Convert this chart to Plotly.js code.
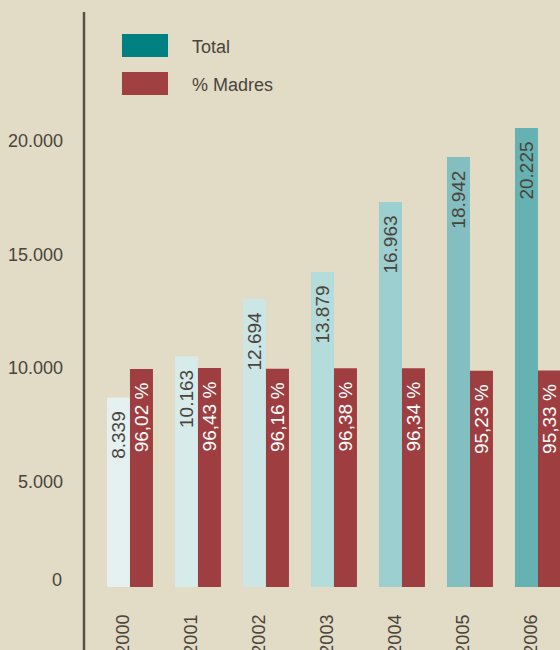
<!DOCTYPE html>
<html><head><meta charset="utf-8">
<script src="https://cdn.plot.ly/plotly-3.0.1.min.js"></script>
<style>html,body{margin:0;padding:0;background:#e2dbc5}#c{width:560px;height:650px}</style>
</head><body><div id="c"></div>
<script>
var years = ["2000","2001","2002","2003","2004","2005","2006"];
var totals = [8339, 10163, 12694, 13879, 16963, 18942, 20225];
var madresPct = [96.02, 96.43, 96.16, 96.38, 96.34, 95.23, 95.33];
var totalColors = ["#e5f1f0","#d6ebea","#cbe6e5","#b4dcdb","#9ccfcf","#83bfc0","#66b2b3"];
var yTicks = [5000, 10000, 15000, 20000];

var FONT = "'Liberation Sans','Arial',sans-serif";
var INK = "#4a443d";
var RED = "#9f3e40";
var pad = "\u00a0\u00a0";

var traceTotal = {
  type: "bar", x: years, y: totals, name: "Total",
  marker: {color: totalColors},
  text: totals.map(function(v){return v.toLocaleString("de-DE") + pad;}),
  textposition: "inside", insidetextanchor: "end", textangle: -90, constraintext: "none",
  textfont: {family: FONT, size: 19, color: INK},
  offsetgroup: "a", hoverinfo: "skip"
};
var traceMadres = {
  type: "bar", x: years, y: madresPct, name: "% Madres", yaxis: "y2",
  marker: {color: RED},
  text: madresPct.map(function(v){return v.toFixed(2).replace(".", ",") + " %" + pad;}),
  textposition: "inside", insidetextanchor: "end", textangle: -90, constraintext: "none",
  textfont: {family: FONT, size: 19, color: "#ffffff"},
  offsetgroup: "b", hoverinfo: "skip"
};

var yTop = 25330;
var layout = {
  width: 560, height: 650,
  paper_bgcolor: "#e2dbc5", plot_bgcolor: "#e2dbc5",
  margin: {l: 84, r: 0, t: 12, b: 62.5},
  showlegend: false,
  barmode: "group", bargap: 0.324, bargroupgap: 0,
  font: {family: FONT, color: INK},
  xaxis: {
    type: "category", range: [-0.676, 6.324], showgrid: false, zeroline: false,
    showline: false, ticks: "", tickangle: -90, ticklabelstandoff: 23, ticklabelshift: -7,
    tickfont: {family: FONT, size: 18, color: INK}, automargin: false, fixedrange: true
  },
  yaxis: {
    range: [0, yTop], tickvals: yTicks,
    ticktext: yTicks.map(function(v){return v.toLocaleString("de-DE");}),
    showgrid: false, zeroline: false, showline: false, ticks: "",
    ticklabelstandoff: 20, ticklabelshift: 8,
    tickfont: {family: FONT, size: 18, color: INK}, automargin: false, fixedrange: true
  },
  yaxis2: {
    range: [0, yTop / 100], overlaying: "y", visible: false, fixedrange: true
  },
  shapes: [
    {type: "line", xref: "paper", yref: "paper", x0: 0, x1: 0, y0: -0.12, y1: 1,
     line: {color: "#5a5048", width: 2.5}},
    {type: "rect", xref: "paper", yref: "paper", x0: 0.0798, x1: 0.1765, y0: 0.9218, y1: 0.9618,
     fillcolor: "#008080", line: {width: 0}},
    {type: "rect", xref: "paper", yref: "paper", x0: 0.0798, x1: 0.1765, y0: 0.8558, y1: 0.8958,
     fillcolor: "#a04040", line: {width: 0}}
  ],
  annotations: [
    {xref: "paper", yref: "y", x: 0, y: 0, xanchor: "right", yanchor: "middle",
     xshift: -20, yshift: 7, text: "0", showarrow: false,
     font: {family: FONT, size: 18, color: INK}},
    {xref: "paper", yref: "paper", x: 0.2227, y: 0.9383, xanchor: "left", yanchor: "middle",
     text: "Total", showarrow: false, font: {family: FONT, size: 18, color: INK}},
    {xref: "paper", yref: "paper", x: 0.2227, y: 0.8723, xanchor: "left", yanchor: "middle",
     text: "% Madres", showarrow: false, font: {family: FONT, size: 18, color: INK}}
  ]
};
Plotly.newPlot("c", [traceTotal, traceMadres], layout, {displayModeBar: false, staticPlot: true});
</script>
</body></html>
